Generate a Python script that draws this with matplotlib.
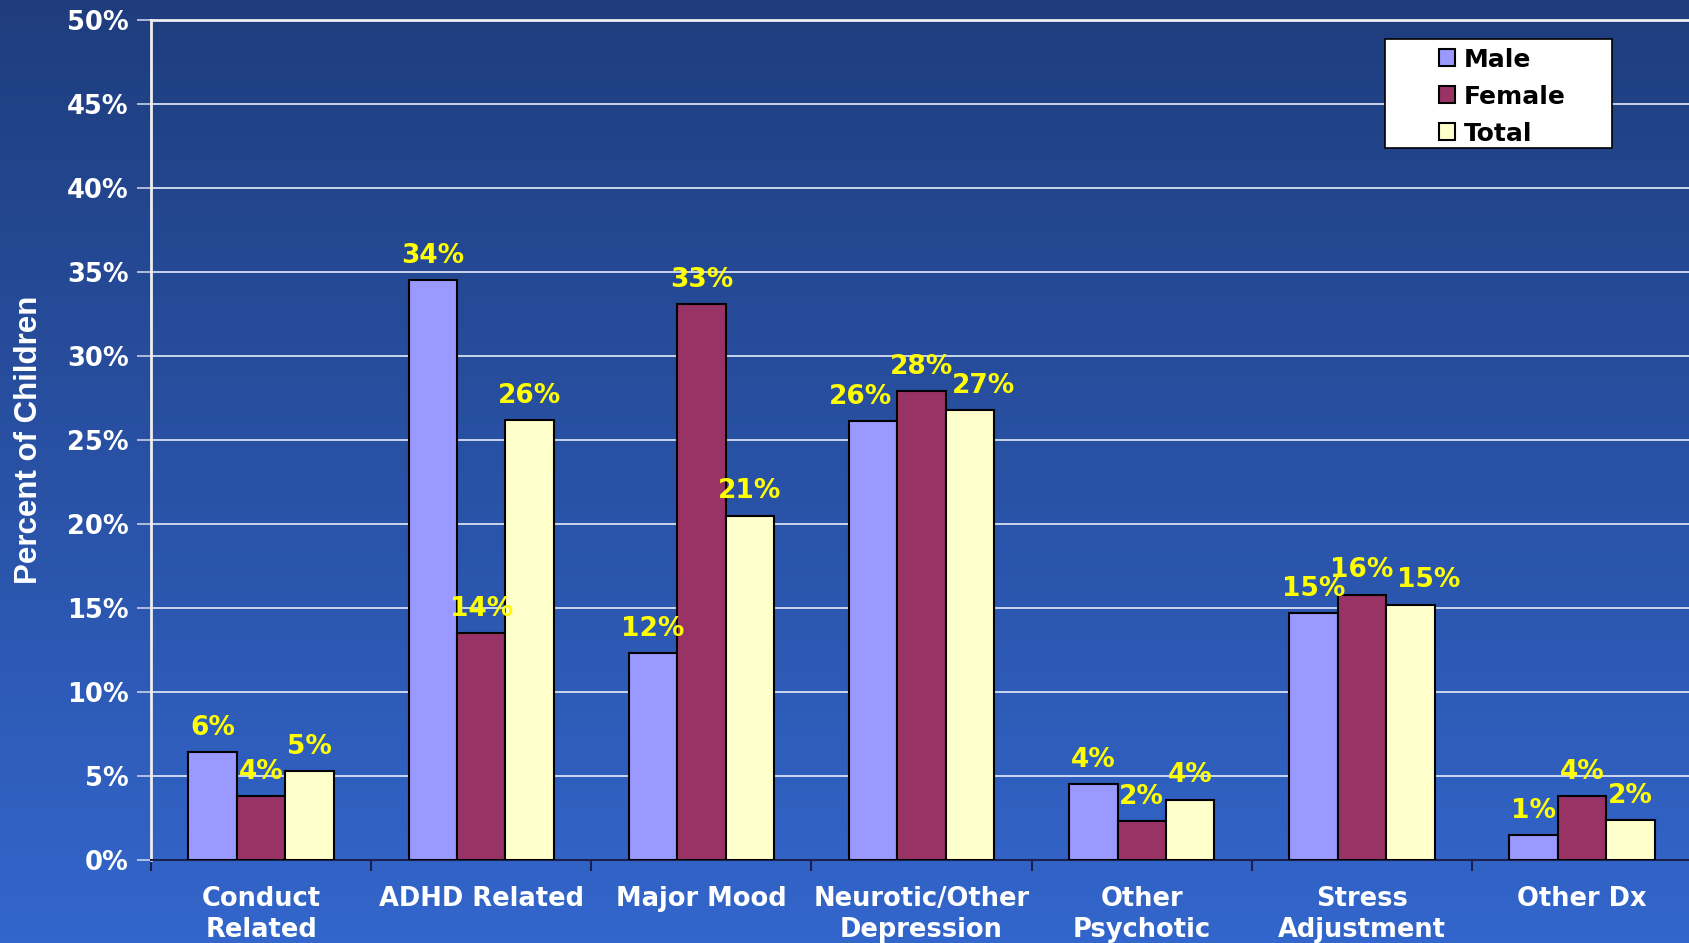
import numpy as np
import matplotlib
matplotlib.use("Agg")
import matplotlib.pyplot as plt
from matplotlib.colors import LinearSegmentedColormap
from matplotlib.ticker import FixedLocator
from matplotlib.patches import Rectangle

# data
categories = ["Conduct\nRelated", "ADHD Related", "Major Mood", "Neurotic/Other\nDepression",
              "Other\nPsychotic", "Stress\nAdjustment", "Other Dx"]
male = [6.4, 34.5, 12.3, 26.1, 4.5, 14.7, 1.5]
female = [3.8, 13.5, 33.1, 27.9, 2.3, 15.8, 3.8]
total = [5.3, 26.2, 20.5, 26.8, 3.6, 15.2, 2.4]
male_lbl = ["6%", "34%", "12%", "26%", "4%", "15%", "1%"]
female_lbl = ["4%", "14%", "33%", "28%", "2%", "16%", "4%"]
total_lbl = ["5%", "26%", "21%", "27%", "4%", "15%", "2%"]

# small sideways nudges (points) so crowded labels don't collide, as in the original
male_dx = [0, 0, 0, -9, 0, 0, 0]
female_dx = [0, 0, 0, 0, 0, 0, 0]
total_dx = [0, 0, 0, 10, 0, 13, 0]

plt.rcParams["font.family"] = ["DejaVu Sans"]
plt.rcParams["font.weight"] = "bold"

fig = plt.figure(figsize=(16.9, 9.43), dpi=100)

# background gradient
bg = fig.add_axes([0, 0, 1, 1], zorder=-10)
grad = np.linspace(0, 1, 256).reshape(-1, 1)
cmap = LinearSegmentedColormap.from_list("bg", ["#1f3d7e", "#3366cc"])
bg.imshow(grad, aspect="auto", cmap=cmap, extent=[0, 1, 0, 1], origin="upper")
bg.axis("off")

ax = fig.add_axes([0.0893, 0.088, 0.912, 0.891])
ax.patch.set_alpha(0)

x = np.arange(len(categories))
w = 0.22
series = [(male, male_lbl, male_dx, "#9999ff", "Male", -w),
          (female, female_lbl, female_dx, "#993366", "Female", 0),
          (total, total_lbl, total_dx, "#ffffcc", "Total", w)]
for vals, lbls, dxs, col, name, off in series:
    bars = ax.bar(x + off, vals, w, color=col, edgecolor="black", linewidth=1.5, label=name, zorder=3)
    for b, t, dx in zip(bars, lbls, dxs):
        ax.annotate(t, (b.get_x() + b.get_width() / 2, b.get_height()), xytext=(dx, 8),
                    textcoords="offset points", ha="center", va="bottom",
                    color="#ffff00", fontsize=19, fontweight="bold", zorder=5)

ax.set_xlim(-0.5, 6.5)
ax.set_ylim(0, 50)
ax.set_yticks(range(0, 51, 5))
ax.set_yticklabels([f"{v}%" for v in range(0, 51, 5)], color="white", fontsize=18.5, fontweight="bold")
ax.set_xticks(x)
ax.set_xticklabels(categories, color="white", fontsize=18.5, fontweight="bold", linespacing=1.25)
ax.xaxis.set_minor_locator(FixedLocator(np.arange(-0.5, 7, 1)))
ax.tick_params(axis="x", which="major", length=0, pad=19)
ax.tick_params(axis="x", which="minor", length=8, width=1.5, color="#1a2050", direction="out")
ax.tick_params(axis="y", length=10, width=1.2, color="#c8d0e8", pad=6)

ax.grid(axis="y", color="#e6ecf8", linewidth=1.2, zorder=0)
ax.set_axisbelow(True)

ax.spines["right"].set_visible(False)
ax.spines["top"].set_color("#eeeeee")
ax.spines["top"].set_linewidth(2)
ax.spines["left"].set_color("#eeeeee")
ax.spines["left"].set_linewidth(2)
ax.spines["bottom"].set_color("#1a2050")
ax.spines["bottom"].set_linewidth(1.5)

ax.set_ylabel("Percent of Children", color="white", fontsize=22.5, fontweight="bold",
              family="Liberation Sans", labelpad=16.5)

# legend box drawn by hand so the side padding matches
fig.patches.append(Rectangle((0.8195, 0.843), 0.1343, 0.1156, transform=fig.transFigure,
                             facecolor="white", edgecolor="black", linewidth=1.2, zorder=4))
leg = fig.legend(loc="upper left", bbox_to_anchor=(0.8515, 0.9496), fontsize=18, frameon=False,
                 handlelength=0.65, handleheight=0.65, handletextpad=0.35, borderpad=0,
                 labelspacing=0.52, borderaxespad=0)
leg.set_zorder(5)
for t in leg.get_texts():
    t.set_fontweight("bold")

fig.savefig("out.png", dpi=100)
